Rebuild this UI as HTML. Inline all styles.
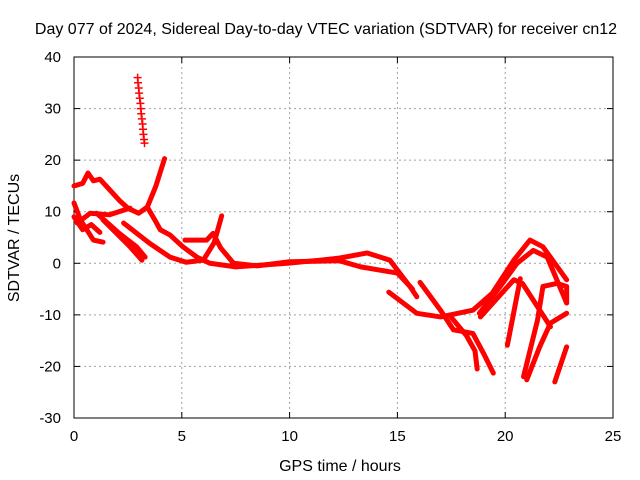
<!DOCTYPE html>
<html><head><meta charset="utf-8"><style>
body{margin:0;background:#fff;}
svg{display:block;font-family:"Liberation Sans",sans-serif;}
</style></head><body>
<svg id="chart" width="640" height="480">
<rect width="640" height="480" fill="#fff"/>
<text x="326" y="34" font-size="16" text-anchor="middle">Day 077 of 2024, Sidereal Day-to-day VTEC variation (SDTVAR) for receiver cn12</text>
<g id="grid"></g><g id="axes"></g><g id="marks"></g>
<text x="340" y="471" font-size="16" text-anchor="middle">GPS time / hours</text>
<text transform="translate(19,238) rotate(-90)" font-size="16" text-anchor="middle">SDTVAR / TECUs</text>
</svg>
<script>
const xTicks=[0,5,10,15,20,25];
const yTicks=[-30,-20,-10,0,10,20,30,40];
const isolated=[[2.95,36],[2.97,35],[3.0,34],[3.02,33],[3.05,32],[3.08,31],[3.1,30],[3.12,29],[3.15,28],[3.18,27],[3.2,26],[3.22,25],[3.25,24],[3.27,23.3]];
const track1=[[0,15],[0.4,15.5],[0.65,17.5],[0.9,16],[1.2,16.3],[1.6,14.5],[2.1,12.2],[2.5,10.7],[3.0,9.7],[3.4,10.9],[3.8,15],[4.2,20.3]];
const track2=[[3.4,10.9],[3.75,8.4],[4.0,6.5],[4.45,5.5],[5.05,3.2],[5.7,1.2],[6.3,0],[7.5,-0.7],[9.9,0],[11.4,0.6],[12.3,1.0],[13.6,2.0],[14.65,0.6],[15.6,-4.6],[15.9,-6.5]];
const track3=[[0.15,7.8],[0.75,9.7],[1.65,9.4],[2.6,10.7]];
const track4=[[1.35,8.4],[2.6,3.2],[3.15,0.6]];
const track5=[[1.05,9.7],[2.1,5.8],[2.9,3.2],[3.3,1.2]];
const track6=[[2.3,7.8],[3.5,3.9],[4.45,1.2],[5.2,0.2],[6.0,0.6],[6.5,4],[6.85,9.2]];
const track7=[[5.15,4.5],[6.15,4.5],[6.45,5.8],[6.8,3],[7.4,0],[8.5,-0.5],[10,0.3],[12.3,0.5],[13.3,-0.7],[15.0,-1.9],[15.7,-5]];
const track8=[[0,11.7],[0.3,8.4],[0.9,4.5],[1.35,4.1]];
const track9=[[14.6,-5.6],[15.9,-9.7],[17.0,-10.4],[18.5,-9.1],[19.4,-5.8],[20.4,0.6],[21.15,4.5],[21.75,3.2],[22.85,-3.2]];
const track10=[[16.05,-3.7],[17.0,-9.1],[17.6,-12.9],[18.5,-13.6],[19.0,-17.5],[19.45,-21.3]];
const track11=[[17.5,-10.5],[18.2,-14],[18.6,-17],[18.7,-20.5]];
const track12=[[18.8,-9.7],[19.75,-4.6],[20.55,0],[21.3,2.5],[21.95,1.2],[22.85,-7.7]];
const track13=[[18.85,-10.4],[20.4,-3.2],[20.8,-3.9],[22.1,-12.3]];
const track14=[[20.7,-3],[20.1,-15.9]];
const track15=[[20.85,-22],[21.5,-11],[21.75,-4.5],[22.4,-3.9],[22.85,-4.5],[22.85,-7.7]];
const track16=[[21.0,-22.6],[21.6,-16.2],[22.1,-11.6],[22.85,-9.7]];
const track17=[[22.3,-23],[22.85,-16.2]];
const track18=[[0,9],[0.4,6.5],[0.8,7.5],[1.2,6]];
const tracks=[track1,track2,track3,track4,track5,track6,track7,track8,track9,track10,track11,track12,track13,track14,track15,track16,track17,track18];

const L=74,R=613,T=57,B=418;
const sx=v=>L+(v-0)/25*(R-L);
const sy=v=>B-(v+30)/70*(B-T);
const NS='http://www.w3.org/2000/svg';
function mk(tag,attrs,parent){const e=document.createElementNS(NS,tag);for(const k in attrs)e.setAttribute(k,attrs[k]);parent.appendChild(e);return e;}
const grid=document.getElementById('grid'),axes=document.getElementById('axes'),marks=document.getElementById('marks');
xTicks.forEach(t=>{
  const x=sx(t);
  if(t>0&&t<25){const g=mk('line',{x1:x,y1:T,x2:x,y2:B,stroke:'#a0a0a0','stroke-dasharray':'2,3'},grid);
  
  }
  mk('line',{x1:x,y1:B,x2:x,y2:B-6,stroke:'#000'},axes);
  mk('line',{x1:x,y1:T,x2:x,y2:T+6,stroke:'#000'},axes);
  const tx=mk('text',{x:x,y:B+23,'font-size':15,'text-anchor':'middle'},axes);
  tx.textContent=t;
  
  
});
yTicks.forEach(t=>{
  const y=sy(t);
  if(t>-30&&t<40){const g=mk('line',{x1:L,y1:y,x2:R,y2:y,stroke:'#a0a0a0','stroke-dasharray':'2,3'},grid);
  
  }
  mk('line',{x1:L,y1:y,x2:L+6,y2:y,stroke:'#000'},axes);
  mk('line',{x1:R,y1:y,x2:R-6,y2:y,stroke:'#000'},axes);
  const tx=mk('text',{x:L-13,y:y+5,'font-size':15,'text-anchor':'end'},axes);
  tx.textContent=t;
  
  
});
const frame=mk('rect',{x:L,y:T,width:R-L,height:B-T,fill:'none',stroke:'#000'},axes);


tracks.forEach((tr,i)=>{
  const p=mk('polyline',{points:tr.map(d=>sx(d[0])+','+sy(d[1])).join(' '),fill:'none',stroke:'#ff0000','stroke-width':5,'stroke-linejoin':'round','stroke-linecap':'round'},marks);
  
  
});
isolated.forEach(d=>{
  const x=sx(d[0]),y=sy(d[1]);
  const p=mk('path',{d:`M${x-4},${y}H${x+4}M${x},${y-4}V${y+4}`,stroke:'#ff0000','stroke-width':1.5},marks);
  
  
});
</script>
</body></html>
